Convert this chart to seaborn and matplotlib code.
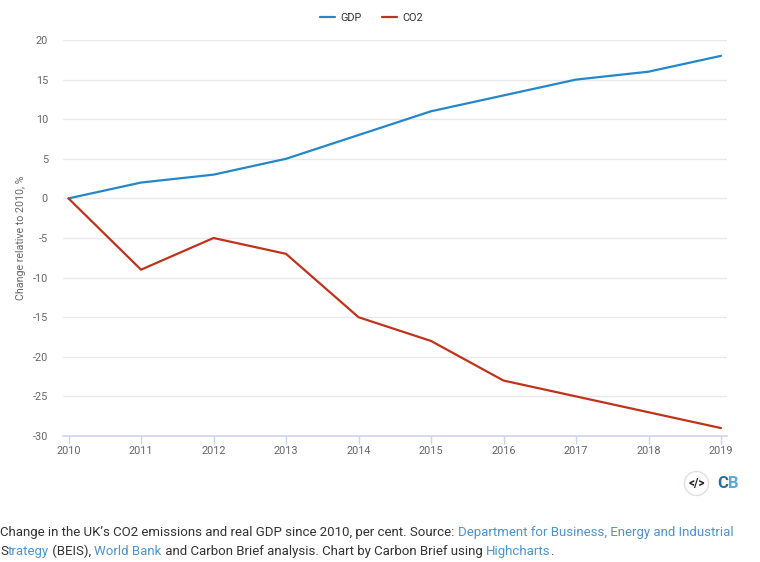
import matplotlib
matplotlib.use("Agg")
import matplotlib.pyplot as plt
import pandas as pd
import seaborn as sns
from matplotlib.patches import Circle

years = [2010, 2011, 2012, 2013, 2014, 2015, 2016, 2017, 2018, 2019]
gdp = [0, 2, 3, 5, 8, 11, 13, 15, 16, 18]
co2 = [0, -9, -5, -7, -15, -18, -23, -25, -27, -29]
y_ticks = [20, 15, 10, 5, 0, -5, -10, -15, -20, -25, -30]

BLUE = "#2387c9"
RED = "#c1321b"
LINK = "#4a94cf"
DARK = "#333333"
GREY = "#666666"

df = pd.DataFrame({"year": years, "GDP": gdp, "CO2": co2})
df_long = df.melt(id_vars="year", var_name="series", value_name="change")

sns.set_theme(style="white")
plt.rcParams["font.family"] = ["Roboto", "DejaVu Sans"]
plt.rcParams["axes.unicode_minus"] = False

fig = plt.figure(figsize=(7.6, 5.62), dpi=100)
ax = fig.add_axes([63 / 760, 1 - 436 / 562, 664 / 760, 396 / 562])

sns.lineplot(data=df_long, x="year", y="change", hue="series",
             palette={"GDP": BLUE, "CO2": RED}, linewidth=1.6, ax=ax)

ax.set_xlim(2010 - 5.5 / 72.5, 2019 + 6 / 72.5)
ax.set_ylim(-30, 20)
ax.set_xticks(years)
ax.set_yticks(y_ticks)
ax.grid(axis="y", color="#e9e9e9", linewidth=1)
ax.set_axisbelow(True)
for s in ["top", "right", "left"]:
    ax.spines[s].set_visible(False)
ax.spines["bottom"].set_color("#ccd6eb")
ax.spines["bottom"].set_linewidth(1.2)
ax.tick_params(axis="x", bottom=True, length=5.5, width=1, color="#ccd6eb",
               labelcolor=GREY, labelsize=7.8, pad=2)
ax.tick_params(axis="y", length=0, labelcolor=GREY, labelsize=7.8, pad=10.8)
ax.set_xlabel("")
ax.set_ylabel("Change relative to 2010, %", fontsize=7.7, color=GREY, labelpad=5)

# legende au dessus du graphique
handles, labels = ax.get_legend_handles_labels()
ax.legend(handles, labels, loc="center", bbox_to_anchor=(0.4645, 1.0556), ncol=2,
          frameon=False, fontsize=7.8, labelcolor="#333333", handlelength=1.4,
          columnspacing=1.85, handletextpad=0.46)

# logo et legende du bas dans un axe en pixels
ax_px = fig.add_axes([0, 0, 1, 1], facecolor="none")
ax_px.set_xlim(0, 760)
ax_px.set_ylim(562, 0)
ax_px.axis("off")
ax_px.add_patch(Circle((696.5, 483.5), 12, facecolor="white", edgecolor="#e6dede", linewidth=1))
ax_px.text(696.5, 483.5, "</>", ha="center", va="center", fontsize=8.5,
           fontweight="bold", color="#222222")
cb = ax_px.text(717, 483.5, "C", ha="left", va="center", fontsize=12,
                fontweight="bold", color="#2f6d99")
ax_px.annotate("B", xy=(1, 0.5), xycoords=cb, va="center", ha="left", fontsize=12,
               fontweight="bold", color="#5aa9dc")


def caption_line(y, parts):
    # chaque morceau est place a la suite du precedent
    prev = None
    for txt, col in parts:
        if prev is None:
            prev = ax_px.text(0, y, txt, color=col, fontsize=9.5, va="baseline", ha="left")
        else:
            prev = ax_px.annotate(txt, xy=(1, 0), xycoords=prev, color=col,
                                  fontsize=9.5, va="bottom", ha="left")


caption_line(536, [("Change in the UK\u2019s CO2 emissions and real GDP since 2010, per cent. Source: ", DARK),
                   ("Department for Business, Energy and Industrial", LINK)])
caption_line(555, [("S", DARK), ("trategy", LINK), (" (BEIS), ", DARK), ("World Bank", LINK),
                   (" and Carbon Brief analysis. Chart by Carbon Brief using ", DARK),
                   ("Highcharts", LINK), (".", DARK)])

plt.savefig("out.png", dpi=100)
